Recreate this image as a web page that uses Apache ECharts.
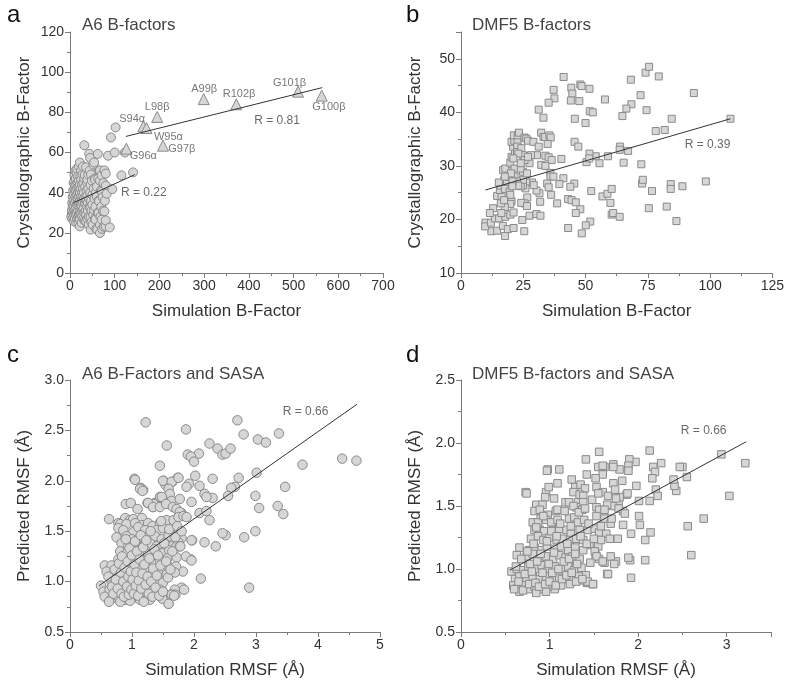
<!DOCTYPE html>
<html>
<head>
<meta charset="utf-8">
<script src="https://cdn.jsdelivr.net/npm/echarts@6/dist/echarts.min.js"></script>
<style>
  html, body { margin: 0; padding: 0; background: #fff; }
  #main { width: 787px; height: 681px; }
</style>
</head>
<body>
<div id="main"></div>
<script>
// panel a: A6 B-factors (circles = residues, triangles = labelled CDR3 loop residues)
var a6Circles = [
  [3,28],[4,31],[5,27],[5,35],[6,33],[6,38],[7,30],[7,41],[8,26],[8,36],[8,45],[9,29],[9,33],[9,39],[10,48.6],[10,42],[10,31],
  [11,27],[11,35],[11,44],[12,38],[12,30],[12,51],[13,29],[13,33],[13,41],[13,47],[14,25],[14,36],[14,44],[15,30],[15,39],[15,49.6],
  [16,27],[16,34],[16,42],[16,52],[17,33.5],[17,37],[17,45],[18,28],[18,31],[18,40],[18,48],[19,25],[19,35],[19,43],[20,29],[20,38],
  [20,46],[20,53],[21,27],[21,33],[21,41],[22,23.2],[22,26.6],[22,29.9],[22,36],[22,39.8],[22,44],[22,55],[23,31],[23,48],[24,34],
  [24,38],[24,42],[25,29.9],[25,46.5],[25,51],[26,25],[26,33],[26,36],[27,40],[27,44],[27,28],[28,31],[28,38],[28,49],[29,35],[29,42],
  [29,53],[30,45],[30,27],[30,32],[31,37],[31,40],[32,63.6],[32,30],[32,47],[33,48.8],[33,26],[33,35],[34,34.5],[34,43],[35,38],[35,31],
  [36,25.7],[36,52.6],[36,29],[37,41],[37,36],[38,33],[38,45],[39,38.5],[39,46.5],[39,27],[40,31],[40,35],[41,42],[41,49],[42,28],
  [42,24],[43,59.4],[43,37],[44,33],[44,51],[45,32.4],[45,57.3],[45,40],[46,21.6],[46,43.8],[46,28],[47,49],[47,36],[48,25.4],[48,31],
  [49,46],[50,39],[50,34],[51,24],[52,54],[52,29],[53,42],[54,31.2],[54,55],[55,37],[55,47],[56,46.5],[56,27],[57,26.6],[57,33],
  [58,40],[59,22],[60,38],[60,43],[61,21.6],[62,59.3],[62,30],[63,47],[64,29.9],[64,36],[65,35.7],[66,51],[67,19.9],[67,24],[67,46],
  [67,51.1],[68,28],[69,41],[70,33],[71,26.6],[71,40.5],[71,48.6],[72,22],[73,37.8],[74,31],[75,44.8],[76,23],[77,30.7],[77,51.1],
  [78,36],[80,23.2],[80,26.2],[80,43.5],[80,49.5],[82,39.5],[85,58.4],[89,22.7],[91.6,67.5],[94.6,41.8],[100,60],[102,72.5],
  [115,48.6],[123,60],[141,50.1]
];
var a6Triangles = [[126,61.9],[164,73],[171,72.2],[195,77.7],[208,63.4],[299,86.6],[372,84],[510,90.3],[563,88.3]];
var a6TriLabels = [
  ['S94\u03b1',139,76.7],['W95\u03b1',220,67.9],['G96\u03b1',164,58.4],['G97\u03b2',250,61.8],['L98\u03b2',195,82.5],
  ['A99\u03b2',300,91.5],['R102\u03b2',378,89],['G101\u03b2',491,94.5],['G100\u03b2',579,82.8]
];
var a6FitHigh = [[125,68],[564,92.3]];
var a6FitLow = [[8,35],[145,49]];

// panel b: DMF5 B-factors
var dmf5Squares = [
  [41.2,46.6],[47.9,45.2],[48.4,44.9],[44.3,44.6],[51.6,44.4],[44.7,43.5],[37.2,44.2],[37.5,42.6],[35.2,41.8],[44.1,42.2],[47.5,42.1],
  [31.2,40.5],[33.1,39],[45.7,38.8],[50,38],[51.7,40.2],[52.9,40],[57.8,42.4],[68.2,46.1],[74.1,47.4],[75.5,48.5],[79.4,46.7],
  [72.1,43.2],[68.4,41.5],[66.4,40.7],[64.8,39.3],[74.5,40.4],[84.6,38.8],[93.5,43.6],[108.2,38.8],[78.2,36.5],[81.8,36.7],
  [98.3,27.1],[88.9,26.2],[84.2,26.6],[84.2,25.7],[82.6,22.4],[86.5,19.7],[75.4,22.1],[76.7,25.3],[72.7,26.7],[73,27.4],[72.4,30.3],
  [67.1,32.8],[65.3,30.6],[63.9,33.6],[63.7,33],[59,31.8],[55.6,30.5],[54.1,31.8],[51.6,32.3],[50.4,30.7],[51.5,31.4],[45.6,34.5],
  [47.1,33.6],[40.3,31.3],[41.1,27.7],[39.5,26.6],[45.5,26.7],[43.9,26.1],[38.6,23],[43,23.8],[44.4,23.6],[46.1,23.2],[47.9,21.9],
  [46.1,21.2],[52.3,25.3],[56.8,24.3],[58.8,24.8],[60.5,25.7],[60,23.1],[60.5,20.9],[61.1,21.2],[63.7,20.5],[51.9,19.6],[50.1,18.9],
  [48.5,17.4],[43,18.4],[25.4,17.8],[17.7,16.9],[12.2,17.8],[14.5,17.9],[9.8,19.4],[9.7,18.7],[12,19.4],[13.6,20.2],[15.3,20.2],
  [17.8,20.5],[19.8,20.9],[21.1,21.3],[16.8,18.8],[18.8,18.2],[21.1,18.4],[24.6,19.9],[27.5,20.7],[30.3,21],[31.9,20.7],[31.8,23.3],
  [31.5,24.9],[30.3,25.4],[26.6,24.1],[25.5,23],[24.2,23.1],[26.5,22.5],[20.3,23.4],[19.8,22.9],[17.6,22.3],[16,23],[16.2,21.2],
  [12.9,22.1],[11.6,21.2],[14.5,24.4],[16.3,24.4],[15.6,25.5],[15.9,26.3],[17.4,27.4],[15.2,26.9],[18.5,27.1],[19.5,28],[19,29.1],
  [16.9,29.2],[17.8,29.5],[19.8,30.6],[21.5,29.5],[20.3,31.7],[21.7,32.6],[20.9,33.6],[20.3,34.5],[21.4,34.7],[21.2,35.7],[22.7,34.5],
  [22.8,35.7],[23.3,36.2],[22.6,33.6],[22.5,32.6],[24.2,33.3],[24.9,32],[25.5,35.3],[26.2,35.1],[26.9,34.7],[29.1,34.5],[32.2,36.2],
  [33.1,35.4],[33.8,35.4],[35.5,35.7],[36,35.3],[34.8,34.1],[31.2,33.6],[30.5,32],[33.9,31.9],[35.2,31.6],[36.4,31.1],[32.2,30.2],
  [33.9,30],[35.9,28.7],[35.9,28],[37.1,28],[34.6,26.7],[35.2,26],[36.2,24.6],[28.5,26.9],[29.2,26.4],[26.2,26.9],[25.9,25.8],
  [24.9,26.4],[24,26.2],[24.9,27.4],[24.9,28.9],[24,29.5],[26.5,28.6],[27.5,30.5],[28.1,32],[25.5,31.1],[26.9,31.7],[24,30.5],
  [23,32.3],[21,31.4],[19.1,28],[21.5,28],[22.5,27.1],[23,26.3],[20.7,27.1],[20.1,28.6],[17.6,25.7],[19.5,25.2],[19.8,24.6],
  [17.3,23.6],[20.6,26.2],[17.6,28]
];
var dmf5Fit = [[9.8,25.5],[108.2,38.8]];

// panel c: A6 B-Factors and SASA
var a6Rmsf = [
  [1.22,2.58],[1.87,2.51],[1.56,2.35],[2.70,2.60],[2.80,2.46],[3.03,2.41],[3.16,2.38],[3.37,2.47],[2.25,2.37],[2.38,2.32],[2.46,2.26],
  [2.51,2.27],[2.59,2.32],[2.08,2.27],[1.90,2.26],[1.45,2.15],[1.95,2.24],[3.75,2.16],[4.39,2.22],[4.62,2.20],[3.47,1.94],[3.01,2.08],
  [2.72,2.03],[2.66,1.94],[2.60,1.93],[2.55,1.85],[2.99,1.85],[3.05,1.73],[3.35,1.75],[3.44,1.67],[2.81,1.44],[2.99,1.50],[2.51,1.46],
  [2.46,1.48],[2.35,1.35],[2.17,1.39],[2.11,1.03],[2.89,0.94],[2.30,2.02],[2.30,1.83],[2.17,1.87],[2.20,1.84],[2.09,1.95],[2.25,1.61],
  [2.09,1.68],[2.20,1.70],[2.02,2.05],[2.00,2.19],[1.92,1.97],[1.88,1.94],[1.96,1.79],[1.97,1.41],[1.95,1.22],[1.80,1.68],[1.74,2.03],
  [1.65,1.99],[1.51,2.00],[1.54,1.96],[1.04,2.02],[1.14,1.93],[1.18,1.91],[0.90,1.77],[0.98,1.78],[0.63,1.62],[0.78,1.58],[1.25,1.78],
  [1.37,1.78],[1.34,1.74],[1.54,1.78],[1.45,1.84],[1.80,0.94],[1.69,0.92],[1.63,0.87],[1.59,0.78],[1.70,0.87],[1.48,0.92],[1.48,0.84],
  [1.82,1.10],[1.05,2.01],[1.50,2.0],[1.64,1.99],[1.75,2.03],[1.13,1.92],[1.17,1.90],[1.59,1.92],[1.61,1.87],[1.64,1.80],[1.35,1.77],
  [1.26,1.78],[1.48,1.84],[1.77,1.82],[1.09,1.72],[1.34,1.74],[1.45,1.74],[1.55,1.77],[1.66,1.74],[1.72,1.72],[1.77,1.69],[0.89,1.63],
  [0.97,1.61],[1.02,1.62],[1.16,1.63],[0.81,1.57],[0.91,1.57],[1.05,1.58],[1.16,1.56],[1.26,1.58],[1.33,1.55],[1.45,1.58],[1.56,1.61],
  [1.67,1.61],[1.75,1.64],[1.83,1.65],[1.88,1.64],[0.78,1.53],[0.86,1.51],[1.02,1.49],[1.10,1.54],[1.21,1.51],[1.32,1.49],[1.40,1.51],
  [1.50,1.53],[1.61,1.49],[0.75,1.44],[0.91,1.45],[1.00,1.42],[1.13,1.43],[1.24,1.44],[1.37,1.45],[1.48,1.42],[1.59,1.45],[1.72,1.44],
  [1.80,1.43],[1.96,1.41],[0.83,1.38],[0.94,1.35],[1.08,1.37],[1.18,1.35],[1.29,1.38],[1.40,1.35],[1.53,1.38],[1.64,1.35],[1.75,1.39],
  [0.81,1.30],[0.91,1.28],[1.02,1.31],[1.16,1.29],[1.26,1.27],[1.39,1.30],[1.49,1.28],[1.60,1.31],[1.72,1.35],[1.77,1.35],[0.78,1.22],
  [0.89,1.21],[1.00,1.23],[1.10,1.20],[1.21,1.21],[1.32,1.18],[1.45,1.21],[1.57,1.23],[1.72,1.24],[1.87,1.25],[1.96,1.21],[0.56,1.16],
  [0.67,1.16],[0.59,1.10],[0.80,1.15],[0.90,1.13],[1.02,1.15],[1.13,1.12],[1.24,1.14],[1.35,1.11],[1.48,1.13],[1.59,1.15],[1.71,1.15],
  [0.74,1.08],[0.85,1.07],[0.97,1.06],[1.09,1.08],[1.20,1.05],[1.32,1.07],[1.42,1.08],[1.56,1.07],[1.69,1.09],[0.67,1.00],[0.80,0.98],
  [0.91,1.00],[1.02,0.98],[1.14,0.99],[1.26,0.97],[1.39,0.98],[1.50,0.99],[0.50,0.96],[0.54,0.90],[0.64,0.92],[0.75,0.91],[0.86,0.93],
  [0.97,0.90],[1.09,0.92],[1.21,0.90],[1.33,0.92],[1.45,0.92],[0.56,0.85],[0.67,0.83],[0.78,0.85],[0.89,0.82],[1.02,0.84],[1.13,0.82],
  [1.26,0.83],[1.49,0.83],[1.64,0.87],[1.84,0.92],[1.59,0.78],[0.63,0.80],[0.81,0.80],[0.97,0.81],[1.29,0.82],[1.39,0.88],
  [0.62,1.05],[0.68,0.95],[0.72,1.12],[0.70,0.88],[0.74,1.02],[0.77,0.93],[0.79,1.18],[0.82,1.09],[0.83,0.88],[0.84,1.25],[0.86,1.0],
  [0.87,0.85],[0.88,1.14],[0.90,1.42],[0.92,0.95],[0.93,1.2],[0.94,1.05],[0.95,0.87],[0.96,1.33],[0.98,1.1],[0.99,0.92],[1.0,1.26],
  [1.01,1.02],[1.03,0.88],[1.04,1.17],[1.05,1.4],[1.06,0.96],[1.07,1.09],[1.08,1.3],[1.10,0.86],[1.11,1.01],[1.12,1.22],[1.14,1.46],
  [1.15,0.93],[1.17,1.08],[1.18,1.34],[1.19,0.80],[1.20,1.17],[1.22,0.97],[1.23,1.41],[1.25,1.05],[1.27,0.88],[1.28,1.23],[1.30,1.5],
  [1.31,1.0],[1.33,0.85],[1.34,1.13],[1.36,1.32],[1.38,0.94],[1.40,1.06],[1.42,1.26],[1.44,0.86],[1.46,1.16],[1.47,1.6],[1.50,0.9],
  [1.52,1.38],[1.55,1.2],[1.58,1.04],[1.60,1.52],[1.62,1.12],[1.65,1.3],[1.68,0.86],[1.70,1.44],[1.73,1.55],[1.78,1.35],[1.80,1.5]
];
var a6RmsfFit = [[0.47,0.96],[4.63,2.76]];

// panel d: DMF5 B-factors and SASA
var dmf5Rmsf = [
  [3.21,1.84],[3.03,1.58],[2.94,1.91],[2.74,1.40],[2.56,1.34],[2.60,1.11],[2.43,1.62],[2.41,1.66],[2.40,1.71],[2.50,1.81],[2.47,1.81],
  [2.55,1.73],[2.26,1.84],[2.13,1.94],[2.17,1.81],[2.19,1.77],[2.16,1.72],[2.20,1.63],[2.22,1.58],[2.13,1.54],[2.01,1.54],[2.01,1.42],
  [2.02,1.35],[2.14,1.29],[2.08,1.23],[2.08,1.07],[1.92,1.28],[1.91,1.07],[1.89,1.09],[1.92,0.93],[1.98,1.66],[1.97,1.85],[1.90,1.87],
  [1.89,1.82],[1.89,1.78],[1.87,1.59],[1.83,1.46],[1.83,1.35],[1.78,1.54],[1.79,1.57],[1.77,1.24],[1.71,1.50],[1.62,1.81],[1.72,1.83],
  [1.79,1.79],[1.56,1.93],[1.55,1.81],[1.60,1.75],[1.41,1.87],[1.11,1.79],[0.98,1.79],[1.09,1.68],[0.73,1.61],[0.90,1.40],[1.30,1.03],
  [1.42,0.89],[1.49,0.88],[1.36,0.91],[1.65,0.96],[1.55,1.18],[1.52,1.11],[1.56,1.08],[1.62,1.05],[1.75,1.06],
  [1.60,1.82],[1.72,1.81],[0.97,1.78],[1.42,1.75],[1.25,1.71],[1.52,1.72],[1.72,1.68],[1.29,1.65],[1.35,1.67],[1.40,1.64],[1.53,1.65],
  [1.60,1.61],[0.74,1.60],[0.96,1.61],[0.99,1.65],[0.95,1.57],[1.05,1.56],[1.27,1.61],[1.34,1.59],[1.38,1.58],[0.85,1.51],[0.92,1.51],
  [1.18,1.53],[1.22,1.53],[1.32,1.53],[1.38,1.53],[0.83,1.46],[0.89,1.47],[0.98,1.43],[1.07,1.46],[1.09,1.47],[1.30,1.49],[1.37,1.47],
  [1.53,1.49],[1.56,1.47],[1.65,1.51],[1.75,1.56],[0.81,1.37],[0.87,1.37],[0.96,1.39],[1.02,1.37],[1.09,1.39],[1.22,1.40],[1.28,1.41],
  [1.32,1.37],[1.39,1.39],[1.62,1.40],[1.69,1.36],[0.83,1.31],[0.89,1.31],[0.94,1.30],[1.04,1.31],[1.11,1.32],[1.19,1.31],[1.24,1.28],
  [1.34,1.31],[1.43,1.31],[1.51,1.32],[1.56,1.29],[1.64,1.28],[0.79,1.24],[0.87,1.26],[0.93,1.23],[1.00,1.25],[1.08,1.23],[1.15,1.24],
  [1.23,1.23],[1.30,1.24],[1.38,1.23],[1.45,1.19],[1.58,1.23],[1.68,1.24],[0.66,1.17],[0.77,1.15],[0.83,1.17],[0.91,1.15],[0.97,1.18],
  [1.06,1.16],[1.13,1.18],[1.21,1.15],[1.29,1.17],[1.38,1.15],[1.51,1.14],[0.63,1.11],[0.74,1.10],[0.81,1.12],[0.89,1.08],[0.96,1.10],
  [1.04,1.08],[1.11,1.11],[1.18,1.09],[1.26,1.10],[1.34,1.08],[1.53,1.10],[1.60,1.06],[1.69,1.10],[1.73,1.04],[0.57,0.98],[0.63,1.00],
  [0.70,0.99],[0.76,1.02],[0.83,1.00],[0.91,1.03],[0.98,1.00],[1.06,1.02],[1.13,1.00],[1.21,1.02],[1.28,0.99],[1.36,1.01],[1.41,0.95],
  [1.66,0.96],[0.61,0.92],[0.66,0.94],[0.74,0.92],[0.81,0.94],[0.89,0.92],[0.96,0.94],[1.04,0.91],[1.11,0.93],[1.19,0.92],[1.26,0.93],
  [1.33,0.94],[1.43,0.90],[1.49,0.88],[0.59,0.87],[0.64,0.85],[0.70,0.87],[0.76,0.84],[0.83,0.86],[0.91,0.84],[0.98,0.86],[1.06,0.84],
  [1.13,0.87],[1.23,0.88],[1.30,0.90],[0.85,0.81],[0.96,0.82],[0.66,0.82],
  [0.60,0.84],[0.62,1.02],[0.65,0.90],[0.68,1.08],[0.70,0.83],[0.72,0.96],[0.75,1.14],[0.77,0.88],[0.78,1.04],[0.80,0.98],[0.82,1.2],
  [0.84,0.89],[0.85,1.33],[0.86,1.06],[0.88,0.86],[0.90,1.12],[0.92,0.97],[0.93,1.42],[0.95,0.88],[0.97,1.22],[0.99,1.04],[1.00,0.90],
  [1.02,1.30],[1.03,0.97],[1.05,1.13],[1.07,0.87],[1.08,1.26],[1.10,1.00],[1.12,1.36],[1.14,0.92],[1.16,1.06],[1.17,1.46],[1.19,0.95],
  [1.20,1.20],[1.22,1.08],[1.24,1.34],[1.25,0.97],[1.27,1.50],[1.29,1.12],[1.31,1.04],[1.33,1.45],[1.35,1.26],[1.37,0.92],[1.40,1.48],
  [1.42,1.20],[1.44,1.36],[1.46,1.05],[1.48,1.55],[1.50,1.24],[1.53,1.42],[1.55,1.60],[1.58,1.34],[1.62,1.47],[1.66,1.58],[1.70,1.40],
  [1.74,1.63],[1.78,1.48],[1.82,1.70],[1.85,1.44],[1.88,1.60]
];
var dmf5RmsfFit = [[0.55,0.99],[3.22,2.01]];

// R annotations [panel, text, x, y]
var rLabels = [
  [0, 'R = 0.81', 463, 76],
  [0, 'R = 0.22', 165, 40],
  [1, 'R = 0.39', 99, 34],
  [2, 'R = 0.66', 3.8, 2.69],
  [3, 'R = 0.66', 2.74, 2.10]
];

var FONT = 'Liberation Sans';
var fillGray = '#d6d6d6';
var edgeGray = '#8a8a8a';

var myChart = echarts.init(document.getElementById('main'));

function axis(idx, opts) {
  var base = {
    gridIndex: idx,
    type: 'value',
    nameLocation: 'middle',
    nameTextStyle: { fontFamily: FONT, fontSize: 17, color: '#333' },
    axisLine: { show: true, onZero: false, lineStyle: { color: '#7a7a7a', width: 1 } },
    axisTick: { show: true, inside: false, length: 5, lineStyle: { color: '#7a7a7a' } },
    minorTick: { show: true, splitNumber: 2, length: 3, lineStyle: { color: '#7a7a7a' } },
    splitLine: { show: false },
    axisLabel: { fontFamily: FONT, fontSize: 14, color: '#333', margin: 6 }
  };
  for (var k in opts) base[k] = opts[k];
  return base;
}

function pts(data, idx, symbol, size) {
  return {
    type: 'scatter', xAxisIndex: idx, yAxisIndex: idx,
    symbol: symbol, symbolSize: size, data: data,
    itemStyle: { color: fillGray, borderColor: edgeGray, borderWidth: 1, opacity: 1 },
    silent: true
  };
}

function fit(data, idx) {
  return {
    type: 'line', xAxisIndex: idx, yAxisIndex: idx, data: data,
    symbol: 'none', lineStyle: { color: '#333', width: 1 }, silent: true
  };
}

function textSeries(idx, items, size, color) {
  return {
    type: 'scatter', xAxisIndex: idx, yAxisIndex: idx, symbolSize: 1,
    itemStyle: { color: 'rgba(0,0,0,0)' },
    data: items.map(function (t) { return { value: [t[1], t[2]], name: t[0] }; }),
    label: {
      show: true, position: 'inside', formatter: '{b}',
      fontFamily: FONT, fontSize: size, color: color
    },
    silent: true
  };
}

var series = [
  pts(a6Circles, 0, 'circle', 9),
  pts(a6Triangles, 0, 'triangle', 11),
  fit(a6FitHigh, 0),
  fit(a6FitLow, 0),
  textSeries(0, a6TriLabels, 11, '#555'),
  pts(dmf5Squares, 1, 'rect', 7),
  fit(dmf5Fit, 1),
  pts(a6Rmsf, 2, 'circle', 9.5),
  fit(a6RmsfFit, 2),
  pts(dmf5Rmsf, 3, 'rect', 7.5),
  fit(dmf5RmsfFit, 3)
];
[0, 1, 2, 3].forEach(function (g) {
  var items = rLabels.filter(function (r) { return r[0] === g; }).map(function (r) { return [r[1], r[2], r[3]]; });
  series.push(textSeries(g, items, 12, '#444'));
});

function ttl(text, left, top, size, color) {
  return { text: text, left: left, top: top, textStyle: { fontFamily: FONT, fontSize: size, fontWeight: 'normal', color: color } };
}

function yLabel(extra) {
  var l = { fontFamily: FONT, fontSize: 14, color: '#333', margin: 6 };
  for (var k in extra) l[k] = extra[k];
  return l;
}

var option = {
  animation: false,
  backgroundColor: '#fff',
  title: [
    ttl('a', 2, -2, 24, '#111'),
    ttl('b', 401, -2, 24, '#111'),
    ttl('c', 2, 338, 24, '#111'),
    ttl('d', 401, 338, 24, '#111'),
    ttl('A6 B-factors', 77, 12, 17, '#444'),
    ttl('DMF5 B-factors', 467, 12, 17, '#444'),
    ttl('A6 B-Factors and SASA', 77, 361, 17, '#444'),
    ttl('DMF5 B-factors and SASA', 467, 361, 17, '#444')
  ],
  grid: [
    { left: 70, top: 32, width: 313, height: 241 },
    { left: 461, top: 32, width: 313, height: 241 },
    { left: 70, top: 380, width: 310, height: 252 },
    { left: 461, top: 380, width: 310, height: 252 }
  ],
  xAxis: [
    axis(0, { min: 0, max: 700, interval: 100, name: 'Simulation B-Factor', nameGap: 30 }),
    axis(1, { min: 0, max: 125, interval: 25, name: 'Simulation B-Factor', nameGap: 30 }),
    axis(2, { min: 0, max: 5, interval: 1, name: 'Simulation RMSF (\u00c5)', nameGap: 30 }),
    axis(3, { min: 0, max: 3.5, interval: 1, name: 'Simulation RMSF (\u00c5)', nameGap: 30,
      axisLabel: yLabel({ showMaxLabel: false }) })
  ],
  yAxis: [
    axis(0, { min: 0, max: 120, interval: 20, name: 'Crystallographic B-Factor', nameGap: 37 }),
    axis(1, { min: 10, max: 55, interval: 10, name: 'Crystallographic B-Factor', nameGap: 37,
      axisLabel: yLabel({ showMaxLabel: false }) }),
    axis(2, { min: 0.5, max: 3.0, interval: 0.5, name: 'Predicted RMSF (\u00c5)', nameGap: 37,
      axisLabel: yLabel({ formatter: function (v) { return v.toFixed(1); } }) }),
    axis(3, { min: 0.5, max: 2.5, interval: 0.5, name: 'Predicted RMSF (\u00c5)', nameGap: 37,
      axisLabel: yLabel({ formatter: function (v) { return v.toFixed(1); } }) })
  ],
  series: series
};
myChart.setOption(option);
</script>
</body>
</html>
